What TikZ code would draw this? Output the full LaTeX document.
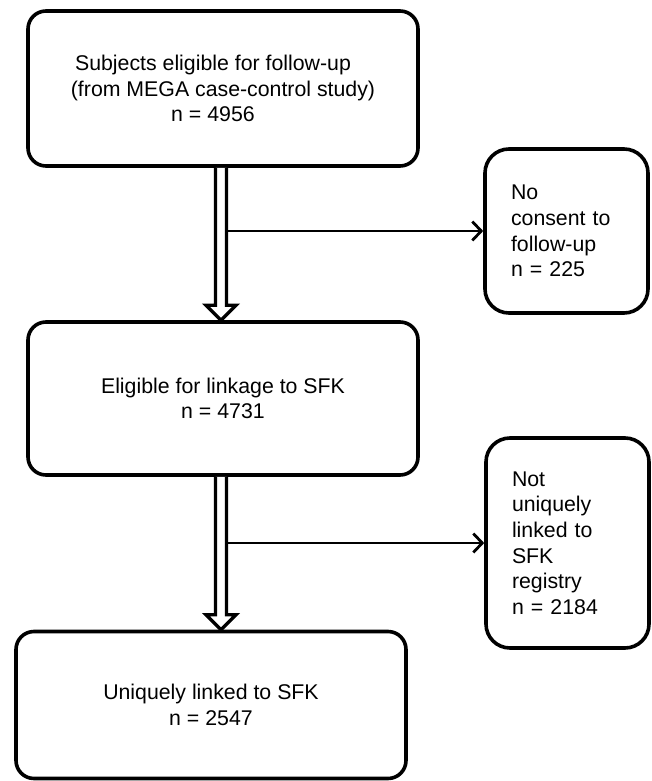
\documentclass[tikz,border=0pt]{standalone}
\usepackage{fontspec}
\setmainfont{Liberation Sans}
\usetikzlibrary{arrows.meta,calc}

\tikzset{
  boxfont/.style={font=\fontsize{21.3}{25.6}\selectfont},
  bigbox/.style={draw, line width=3.6pt, rounded corners=18pt, minimum width=390pt,
    align=center, inner sep=0pt, boxfont},
  sidebox/.style={draw, line width=3.6pt, rounded corners=24pt, minimum width=163pt,
    text width=111pt, align=left, inner xsep=26pt, inner ysep=0pt, boxfont},
  shaft/.style={line width=3.4pt, fill=white, line join=miter},
  branch/.style={line width=2.8pt, -{Straight Barb[length=9pt,width=19pt]}},
}

% hollow double arrow from #1 down to #2
\newcommand{\hollowdown}[2]{%
  \draw[shaft] ($(#1)+(-5.5,0)$) -- ($(#2)+(-5.5,15)$) -- ($(#2)+(-15,15)$) -- (#2)
    -- ($(#2)+(15,15)$) -- ($(#2)+(5.5,15)$) -- ($(#1)+(5.5,0)$);}

\begin{document}
\begin{tikzpicture}[x=1pt,y=1pt]
  \useasboundingbox (0,0) rectangle (651,-781);
  \node[bigbox, minimum height=155pt] (top) at (223,-88.5)
    {Subjects eligible for follow-up\hspace*{20pt}\\(from MEGA case-control study)\hspace*{20pt}\\n = 4956\hspace*{20pt}};
  \node[sidebox, minimum height=164pt] (nocons) at (566.5,-231)
    {No\\consent to\\follow-up\\n = 225};
  \node[bigbox, minimum height=153pt] (elig) at (223,-398.5)
    {Eligible for linkage to SFK\\n = 4731};
  \node[sidebox, minimum height=210pt] (notlinked) at (567.5,-543)
    {Not\\uniquely\\linked to\\SFK\\registry\\n = 2184};
  \node[bigbox, minimum height=147pt] (linked) at (211,-705)
    {Uniquely linked to SFK\\n = 2547};

  \coordinate (s1) at ([xshift=-2pt]top.south);
  \coordinate (t1) at ([xshift=-2pt]elig.north);
  \coordinate (s2) at ([xshift=-2pt]elig.south);
  \coordinate (t2) at (s2 |- linked.north);
  \coordinate (r1) at ([xshift=7pt]s1);
  \coordinate (r2) at ([xshift=7pt]s2);

  \hollowdown{s1}{t1}
  \hollowdown{s2}{t2}
  \draw[branch] (r1 |- nocons.west) -- (nocons.west);
  \draw[branch] (r2 |- notlinked.west) -- (notlinked.west);
\end{tikzpicture}
\end{document}
